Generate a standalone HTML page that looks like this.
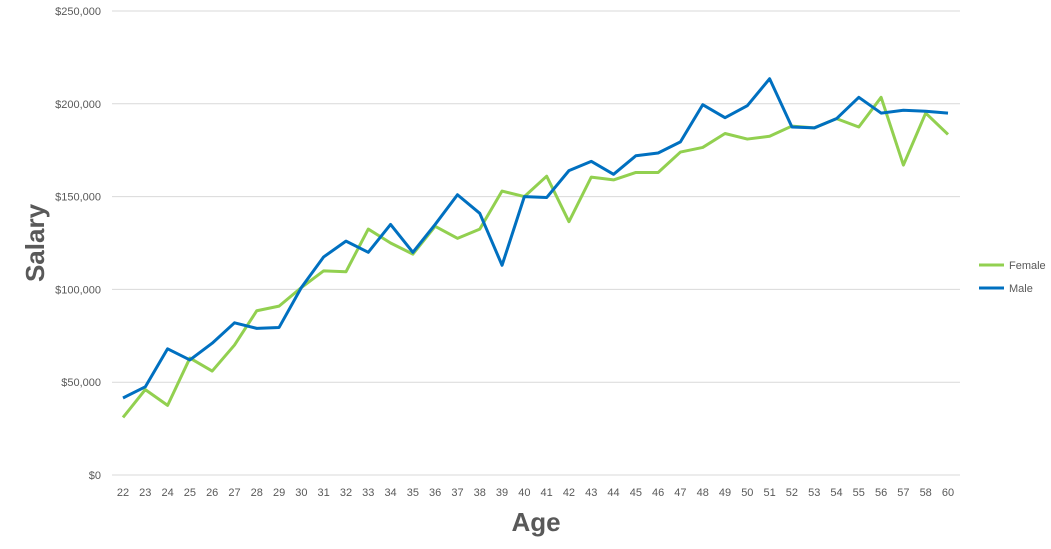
<!DOCTYPE html>
<html><head><meta charset="utf-8"><style>
body{margin:0;background:#fff;font-family:"Liberation Sans",sans-serif}
</style></head><body>
<svg id="c" width="1051" height="544" xmlns="http://www.w3.org/2000/svg"></svg>
<script>
const categories=[22,23,24,25,26,27,28,29,30,31,32,33,34,35,36,37,38,39,40,41,42,43,44,45,46,47,48,49,50,51,52,53,54,55,56,57,58,60];
const female=[31,46,37.5,63,56,70,88.5,91,101,110,109.5,132.5,125,119,134,127.5,132.5,153,150,161,136.5,160.5,159,163,163,174,176.5,184,181,182.5,188,187,192,187.5,203.5,167,195,183.5].map(v=>v*1000);
const male=[41.5,47.5,68,62,71,82,79,79.5,101,117.5,126,120,135,120,135,151,141,113,150,149.5,164,169,162,172,173.5,179.5,199.5,192.5,199,213.5,187.5,187,192,203.5,195,196.5,196,195].map(v=>v*1000);
const yTicks=[0,50000,100000,150000,200000,250000];
const svg=document.getElementById('c');const NS='http://www.w3.org/2000/svg';
const X0=123,X1=948,Y0=475,Y1=11,PL=112,PR=960;
const x=i=>X0+i*(X1-X0)/(categories.length-1);
const y=v=>Y0-(v/250000)*(Y0-Y1);
function mk(t,a,txt){const e=document.createElementNS(NS,t);for(const k in a)e.setAttribute(k,a[k]);if(txt!==undefined)e.textContent=txt;svg.appendChild(e);return e;}
yTicks.forEach(v=>{
 const g=mk('line',{x1:PL,x2:PR,y1:y(v),y2:y(v),stroke:'#d9d9d9','stroke-width':1});
 
 
 const t=mk('text',{x:101,y:y(v)+4,'text-anchor':'end','font-size':11,fill:'#595959'},'$'+v.toLocaleString('en-US'));
 
 
});
categories.forEach((c,i)=>{
 const t=mk('text',{x:x(i),y:496,'text-anchor':'middle','font-size':11,fill:'#595959'},c);
 
 
});
function line(d,col,name){
 const p=mk('polyline',{points:d.map((v,i)=>x(i)+','+y(v)).join(' '),fill:'none',stroke:col,'stroke-width':3,'stroke-linejoin':'round'});
 
 
}
line(female,'#92d050','female-line');
line(male,'#0070c0','male-line');
const yt=mk('text',{x:0,y:0,transform:'translate(44,243) rotate(-90)','text-anchor':'middle','font-size':26,'font-weight':'bold',fill:'#595959'},'Salary');


const xt=mk('text',{x:536,y:531,'text-anchor':'middle','font-size':26,'font-weight':'bold',fill:'#595959'},'Age');


[['Female','#92d050',265],['Male','#0070c0',288]].forEach(([n,c,yy])=>{
 const l=mk('line',{x1:979,x2:1004,y1:yy,y2:yy,stroke:c,'stroke-width':3});
 
 
 const t=mk('text',{x:1009,y:yy+4,'font-size':11,fill:'#595959'},n);
 
 
});
</script>
</body></html>
